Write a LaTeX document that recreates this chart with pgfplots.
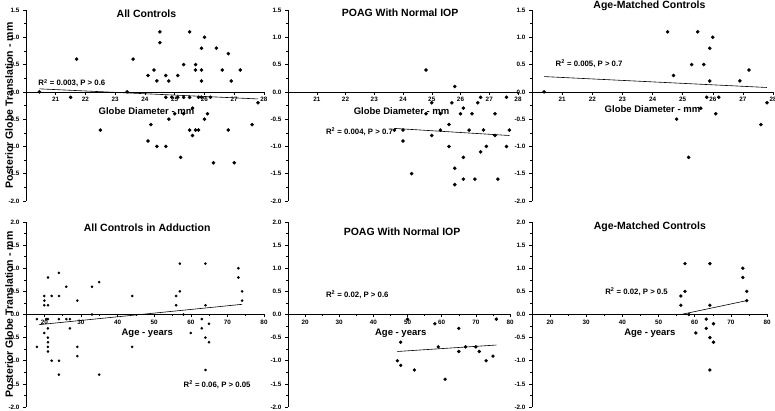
\documentclass[border=0pt]{standalone}
\usepackage{fontspec}
\setmainfont{Liberation Sans}
\usepackage{pgfplots}
\pgfplotsset{compat=1.18}

\pgfplotsset{
  panel/.style={
    scale only axis, anchor=south west, clip=false,
    axis x line=middle, axis y line=left,
    every inner x axis line/.append style={-},
    every outer y axis line/.append style={-},
    axis line style={black, line width=0.6pt},
    hide obscured x ticks=false, hide obscured y ticks=false,
    tick align=outside, major tick length=3pt, minor tick length=1.6pt,
    tick style={black, line width=0.5pt},
    ticklabel style={font=\fontsize{6.3}{7}\selectfont\bfseries},
    /pgf/number format/assume math mode=true,
    yticklabel style={/pgf/number format/.cd, fixed, fixed zerofill, precision=1, /tikz/.cd},
    xticklabel style={yshift=1pt},
    minor y tick num=1,
    every axis y label/.style={at={(rel axis cs:0,0.5)}, xshift=-17pt, rotate=90,
      anchor=center, font=\fontsize{10.5}{12}\selectfont\bfseries},
  },
  toprow/.style={panel, xmin=20, xmax=28, ymin=-2, ymax=1.5,
    xtick={21,...,28}, ytick={-2,-1.5,...,1.5}, height=191pt},
  botrow/.style={panel, xmin=15, xmax=80, ymin=-2, ymax=2,
    xtick={20,30,...,80}, minor x tick num=1, ytick={-2,-1.5,...,2}, height=185pt},
  pts/.style={only marks, mark=*, mark size=#1, black},
  fit/.style={black, line width=0.6pt, no marks},
}
\newcommand{\ttl}{\fontsize{10.5}{12}\selectfont\bfseries}
\newcommand{\xl}{\fontsize{9.5}{11}\selectfont\bfseries}
\newcommand{\ann}{\fontsize{7.8}{9}\selectfont\bfseries}

\begin{document}
\begin{tikzpicture}[x=1pt,y=1pt]
\useasboundingbox (0,0) rectangle (775,411);

% ---- globe diameter, all controls
\begin{axis}[toprow, at={(26pt,210pt)}, width=238pt,
  ylabel={Posterior Globe Translation - mm}]
\node[font=\ttl, anchor=base] at (axis cs:24.05,1.36) {All Controls};
\node[font=\xl] at (axis cs:24.05,-0.35) {Globe Diameter - mm};
\node[font=\ann, anchor=west] at (axis cs:20.3,0.16) {R\textsuperscript{2} = 0.003, P > 0.6};
\addplot[fit] coordinates {(20.45,0.055) (27.8,-0.13)};
\addplot[pts=1.6pt] coordinates {
 (20.45,0.0) (21.5,-0.1) (21.7,0.6) (22.5,-0.7) (23.4,0.0) (23.6,0.6)
 (24.1,0.3) (24.1,-0.9) (24.2,-0.6) (24.3,0.4) (24.4,0.2) (24.4,-1.0)
 (24.5,1.1) (24.5,0.9) (24.7,0.3) (24.7,-0.1) (24.7,-1.0) (24.8,0.2)
 (24.8,-0.5) (24.9,-0.1) (25.0,-0.4) (25.1,0.3) (25.1,-0.1) (25.2,-1.2)
 (25.3,0.5) (25.3,-0.1) (25.3,-0.4) (25.5,1.1) (25.5,-0.1) (25.5,-0.7)
 (25.6,-0.3) (25.6,-0.8) (25.7,0.5) (25.7,0.4) (25.7,-0.7) (25.8,-0.1)
 (25.8,-0.7) (25.9,0.8) (25.9,0.4) (25.9,0.2) (25.9,-0.1) (26.0,1.0)
 (26.0,-0.5) (26.1,-0.4) (26.2,-0.1) (26.3,-1.3) (26.4,0.8) (26.6,0.4)
 (26.8,0.7) (26.8,-0.7) (26.9,0.2) (27.0,-1.3) (27.2,0.4) (27.6,-0.6)
 (27.8,-0.2)};
\end{axis}

% ---- globe diameter, POAG
\begin{axis}[toprow, at={(288pt,210pt)}, width=230pt]
\node[font=\ttl, anchor=base] at (axis cs:23.9,1.38) {POAG With Normal IOP};
\node[font=\xl] at (axis cs:23.95,-0.35) {Globe Diameter - mm};
\node[font=\ann, anchor=west] at (axis cs:21.2,-0.73) {R\textsuperscript{2} = 0.004, P > 0.7};
\addplot[fit] coordinates {(23.7,-0.67) (27.7,-0.80)};
\addplot[pts=1.6pt] coordinates {
 (23.7,-0.7) (24.0,-0.7) (24.0,-0.9) (24.3,-1.5) (24.8,0.4) (24.8,-0.4)
 (25.0,-0.2) (25.0,-0.8) (25.3,-0.4) (25.3,-0.7) (25.6,-0.6) (25.6,-1.0)
 (25.7,-0.2) (25.8,0.1) (25.8,-1.4) (25.8,-1.7) (26.0,-0.4) (26.1,-0.3)
 (26.1,-1.2) (26.1,-1.6) (26.3,-0.7) (26.4,-0.4) (26.5,-1.6) (26.6,-0.2)
 (26.7,-0.1) (26.7,-1.1) (26.8,-0.7) (26.9,-1.0) (27.2,-0.4) (27.2,-0.8)
 (27.3,-1.6) (27.6,-0.1) (27.6,-1.0) (27.7,-0.7)};
\end{axis}

% ---- globe diameter, age-matched
\begin{axis}[toprow, at={(532pt,210pt)}, width=241pt]
\node[font=\ttl, anchor=base] at (axis cs:23.9,1.52) {Age-Matched Controls};
\node[font=\xl] at (axis cs:24.0,-0.32) {Globe Diameter - mm};
\node[font=\ann, anchor=west] at (axis cs:20.67,0.51) {R\textsuperscript{2} = 0.005, P > 0.7};
\addplot[fit] coordinates {(20.4,0.28) (27.8,0.08)};
\addplot[pts=1.6pt] coordinates {
 (20.4,0.0) (24.5,1.1) (24.7,0.3) (24.8,-0.5) (25.2,-1.2) (25.3,0.5)
 (25.5,1.1) (25.6,-0.3) (25.7,0.5) (25.8,-0.1) (25.9,0.8) (25.9,0.2)
 (26.0,1.0) (26.1,-0.4) (26.2,-0.1) (26.9,0.2) (27.2,0.4) (27.6,-0.6)
 (27.8,-0.2)};
\end{axis}

% ---- age, all controls in adduction
\begin{axis}[botrow, at={(26pt,4pt)}, width=238pt,
  ylabel={Posterior Globe Translation - mm}]
\node[font=\ttl, anchor=base] at (axis cs:48.1,1.79) {All Controls in Adduction};
\node[font=\xl] at (axis cs:48.1,-0.41) {Age - years};
\node[font=\ann, anchor=west] at (axis cs:57.1,-1.52) {R\textsuperscript{2} = 0.06, P > 0.05};
\addplot[fit] coordinates {(18.5,-0.22) (74,0.22)};
\addplot[pts=1.1pt] coordinates {
 (18,-0.1) (18,-0.7) (20,0.4) (20,0.3) (20,0.2) (20,-0.4) (20.5,-0.1)
 (21,0.8) (21,0.2) (21,-0.1) (21,-0.3) (21,-0.5) (21,-0.6) (21,-0.7)
 (21,-0.8) (22,0.4) (22,-1.0) (24,0.9) (24,0.4) (24,-0.1) (24,-1.0)
 (24,-1.3) (26,0.6) (26,-0.1) (27,-0.1) (27,-0.3) (29,0.3) (29,-0.7)
 (29,-0.9) (33,0.6) (33,0.0) (35,0.7) (35,-1.3) (44,0.4) (44,-0.7)
 (56,0.4) (56,0.2) (57,1.1) (57,0.5) (58,0.0) (60,-0.4) (63,-0.1)
 (63,-0.3) (64,1.1) (64,0.2) (64,-0.5) (64,-1.2) (65,-0.2) (65,-0.6)
 (73,1.0) (73,0.8) (74,0.5) (74,0.3)};
\end{axis}

% ---- age, POAG
\begin{axis}[botrow, at={(288pt,4pt)}, width=222pt]
\node[font=\ttl, anchor=base] at (axis cs:48.4,1.70) {POAG With Normal IOP};
\node[font=\xl] at (axis cs:48,-0.4) {Age - years};
\node[font=\ann, anchor=west] at (axis cs:25.1,0.43) {R\textsuperscript{2} = 0.02, P > 0.6};
\addplot[fit] coordinates {(47,-0.8) (76,-0.66)};
\addplot[pts=1.5pt] coordinates {
 (47,-1.0) (48,-0.6) (48,-1.1) (50,-0.1) (52,-1.2) (58,-0.2) (59,-0.7)
 (61,-1.4) (65,-0.3) (65,-0.8) (67,-0.7) (70,-0.7) (71,-0.8) (73,-1.0)
 (75,-0.9) (76,-0.1)};
\end{axis}

% ---- age, age-matched
\begin{axis}[botrow, at={(532pt,4pt)}, width=235pt]
\node[font=\ttl, anchor=base] at (axis cs:47.6,1.83) {Age-Matched Controls};
\node[font=\xl] at (axis cs:47.6,-0.4) {Age - years};
\node[font=\ann, anchor=west] at (axis cs:34.3,0.5) {R\textsuperscript{2} = 0.02, P > 0.5};
\addplot[fit] coordinates {(56.2,0.0) (74.4,0.3)};
\addplot[pts=1.5pt] coordinates {
 (56.2,0.4) (56.2,0.2) (57.3,1.1) (57.3,0.5) (58.4,0.0) (60.3,-0.4)
 (63.2,-0.1) (63.2,-0.3) (64.2,1.1) (64.2,0.2) (64.2,-0.5) (64.2,-1.2)
 (65.2,-0.2) (65.2,-0.6) (73.3,1.0) (73.3,0.8) (74.4,0.5) (74.4,0.3)};
\end{axis}
\end{tikzpicture}
\end{document}
